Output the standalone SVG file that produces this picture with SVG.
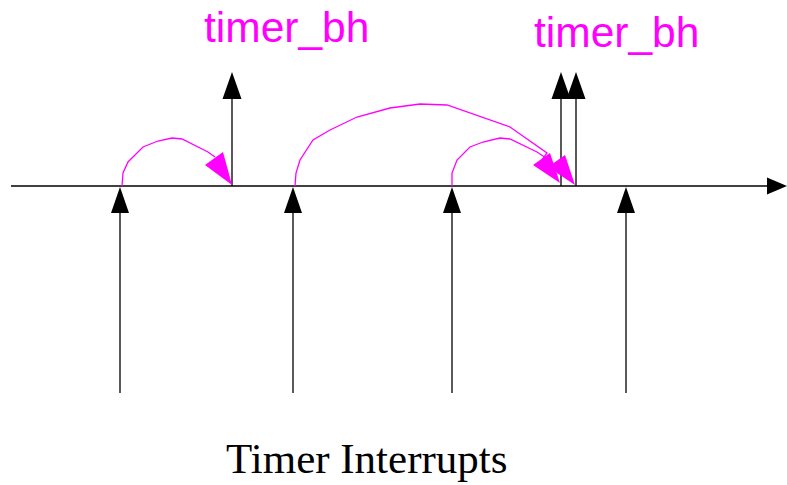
<svg xmlns="http://www.w3.org/2000/svg" width="787" height="485" viewBox="0 0 787 485">
<style>
.ln{stroke:#000;stroke-width:1.3;fill:none}
.ah{fill:#000;stroke:none}
.arc{stroke:#ff00ff;stroke-width:1.3;fill:none}
.mh{fill:#ff00ff;stroke:none}
.lbl{font-family:"Liberation Sans",Arial,sans-serif;font-size:42.5px;fill:#ff00ff}
.cap{font-family:"Liberation Serif","Times New Roman",serif;font-size:43px;fill:#000}
</style>
<g id="axis">
<line class="ln" x1="11" y1="186" x2="770" y2="186"/>
<polygon class="ah" points="787,186 767,177.5 767,194.5"/>
</g>
<g id="interrupts">
<g id="int1"><line class="ln" x1="120" y1="393" x2="120" y2="210"/><polygon class="ah" points="120,187 111,213 129,213"/></g>
<g id="int2"><line class="ln" x1="293" y1="393" x2="293" y2="210"/><polygon class="ah" points="293,187 284,213 302,213"/></g>
<g id="int3"><line class="ln" x1="452" y1="393" x2="452" y2="210"/><polygon class="ah" points="452,187 443,213 461,213"/></g>
<g id="int4"><line class="ln" x1="626" y1="393" x2="626" y2="210"/><polygon class="ah" points="626,187 617,213 635,213"/></g>
</g>
<g id="bh1">
<line class="ln" x1="232" y1="186" x2="232" y2="96"/>
<polygon class="ah" points="232,72 222.5,99 241.5,99"/>
<text class="lbl" x="204" y="42">timer_bh</text>
</g>
<g id="bh2">
<line class="ln" x1="561" y1="186" x2="561" y2="96"/>
<polygon class="ah" points="561,72 551.5,99 570.5,99"/>
<line class="ln" x1="576" y1="186" x2="576" y2="96"/>
<polygon class="ah" points="576,72 566.5,99 585.5,99"/>
<text class="lbl" x="534" y="47">timer_bh</text>
</g>
<g id="connectors">
<polyline class="arc" points="122,186 123,173 128,162 143,147 158,141 172,138 182,139 208,152 215,157"/>
<polygon class="mh" points="232,185 205,165 223,152"/>
<polyline class="arc" points="295,186 296,173 300,160 313,140 330,130 357,117 390,108 420,104 447,105 510,127 547,153 542,160"/>
<polygon class="mh" points="560,183 533,165 550,153"/>
<polyline class="arc" points="452,186 452,173 457,160 470,147 483,142 500,138 510,139 537,152 552,162"/>
<polygon class="mh" points="575,185 548,167 565,155"/>
</g>
<text class="cap" x="226" y="473">Timer Interrupts</text>
</svg>
